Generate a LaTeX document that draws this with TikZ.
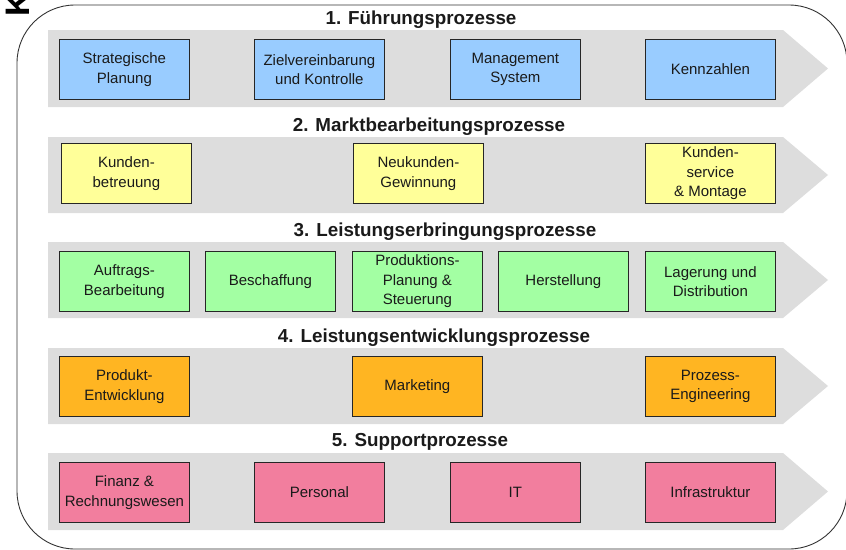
\documentclass[tikz,border=0pt]{standalone}
\usepackage{fontspec}
\setmainfont{Liberation Sans}
\definecolor{bandgray}{HTML}{DDDDDD}
\definecolor{cblue}{HTML}{99CCFF}
\definecolor{cyellow}{HTML}{FFFF99}
\definecolor{cgreen}{HTML}{A3FFA3}
\definecolor{corange}{HTML}{FFB522}
\definecolor{cpink}{HTML}{F27E9E}
\definecolor{txt}{HTML}{1A1A1A}
\tikzset{
  procbox/.style={draw=black!85, line width=0.8pt, minimum width=130pt, minimum height=60pt,
    inner sep=0pt, align=center, anchor=north west, text=txt,
    font=\fontsize{15}{19.5}\selectfont},
  bandfill/.style={fill=bandgray},
  rowtitle/.style={font=\bfseries\fontsize{18.8}{18.8}\selectfont, text=txt, inner sep=0pt}
}
\newcommand{\bandshape}[2]{\fill[bandfill] (48,#1) -- (783,#1) -- (828,{(#1+#2)/2}) -- (783,#2) -- (48,#2) -- cycle;}
\begin{document}
\begin{tikzpicture}[x=1pt,y=-1pt]
\useasboundingbox (0,0) rectangle (846,549);
% outer frame
\draw[line width=0.9pt, black!80] (17,5) [rounded corners=58] rectangle (847,549);
% rotated label (partly cut off, as in the reference)
\node[rotate=90, anchor=south west, inner sep=0pt, font=\bfseries\fontsize{34}{34}\selectfont] (klabel) at (30,17) {K};

% bands
\bandshape{30}{107}
\bandshape{137}{213}
\bandshape{242}{318}
\bandshape{348}{424}
\bandshape{453}{530}

% titles
\node[rowtitle] (t1) at (421,20) {1. Führungsprozesse};
\node[rowtitle] (t2) at (429,127) {2. Marktbearbeitungsprozesse};
\node[rowtitle] (t3) at (445,232) {3. Leistungserbringungsprozesse};
\node[rowtitle] (t4) at (434,338) {4. Leistungsentwicklungsprozesse};
\node[rowtitle] (t5) at (420,442) {5. Supportprozesse};

% row 1
\node[procbox, fill=cblue] (f1) at (59,39) {Strategische\\Planung};
\node[procbox, fill=cblue] (f2) at (254,39) {Zielvereinbarung\\und Kontrolle};
\node[procbox, fill=cblue] (f3) at (450,39) {Management\\System};
\node[procbox, fill=cblue] (f4) at (645,39) {Kennzahlen};

% row 2
\node[procbox, fill=cyellow] (m1) at (61,143) {Kunden-\\betreuung};
\node[procbox, fill=cyellow] (m2) at (353,143) {Neukunden-\\Gewinnung};
\node[procbox, fill=cyellow] (m3) at (645,143) {Kunden-\\service\\\& Montage};

% row 3
\node[procbox, fill=cgreen] (l1) at (59,251) {Auftrags-\\Bearbeitung};
\node[procbox, fill=cgreen] (l2) at (205,251) {Beschaffung};
\node[procbox, fill=cgreen] (l3) at (352,251) {Produktions-\\Planung \&\\Steuerung};
\node[procbox, fill=cgreen] (l4) at (498,251) {Herstellung};
\node[procbox, fill=cgreen] (l5) at (645,251) {Lagerung und\\Distribution};

% row 4
\node[procbox, fill=corange] (e1) at (59,356) {Produkt-\\Entwicklung};
\node[procbox, fill=corange] (e2) at (352,356) {Marketing};
\node[procbox, fill=corange] (e3) at (645,356) {Prozess-\\Engineering};

% row 5
\node[procbox, fill=cpink] (s1) at (59,462) {Finanz \&\\Rechnungswesen};
\node[procbox, fill=cpink] (s2) at (254,462) {Personal};
\node[procbox, fill=cpink] (s3) at (450,462) {IT};
\node[procbox, fill=cpink] (s4) at (645,462) {Infrastruktur};
\end{tikzpicture}
\end{document}
